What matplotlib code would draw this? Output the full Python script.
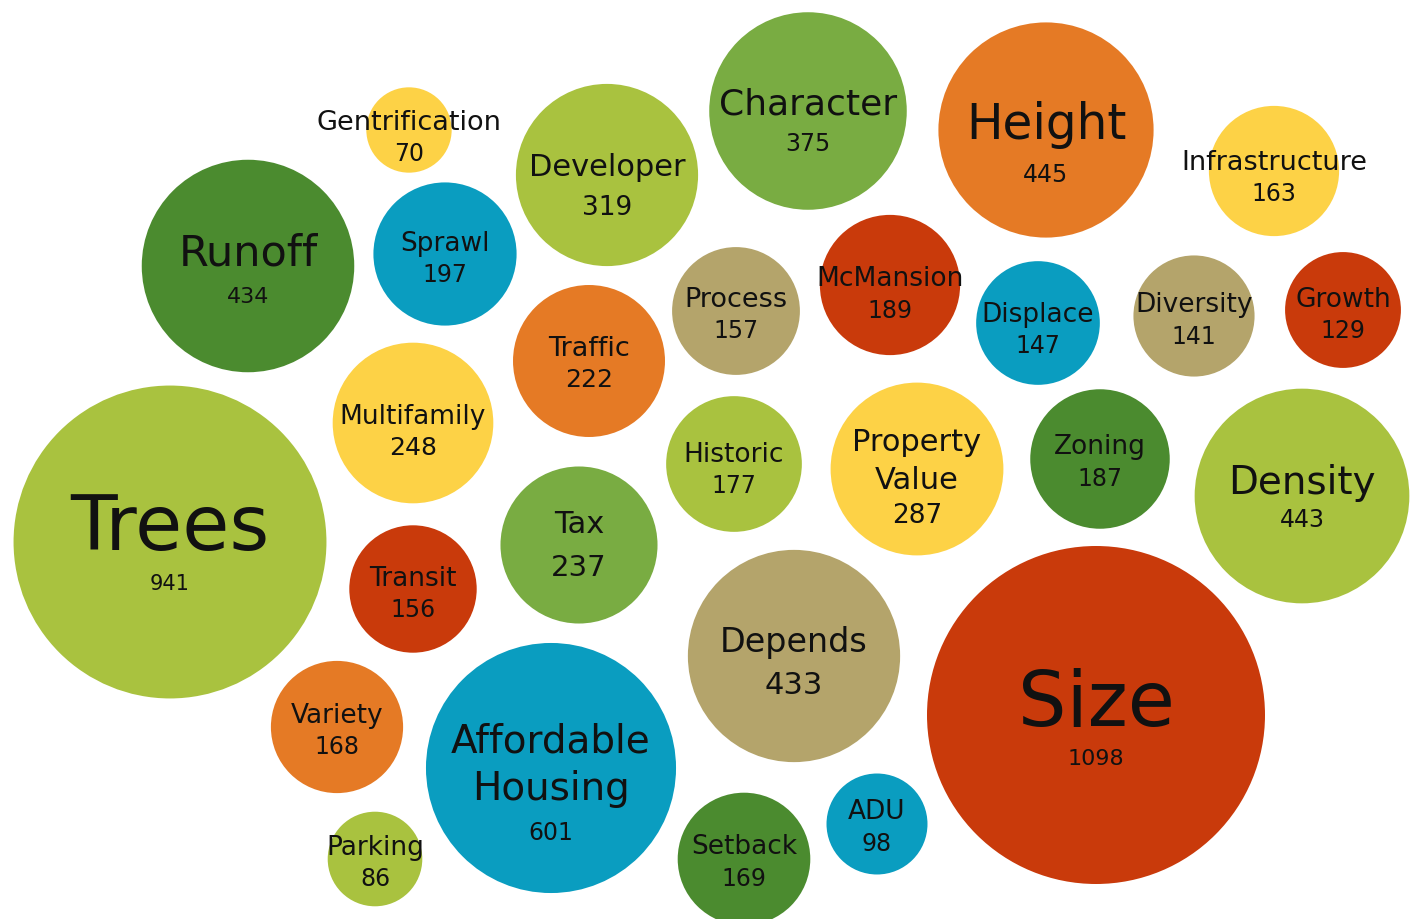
import matplotlib
matplotlib.use("Agg")
import numpy as np
import matplotlib.pyplot as plt
from matplotlib.patches import Circle

# data
topics = ["Trees", "Size", "Affordable\nHousing", "Runoff", "Height", "Density",
          "Character", "Depends", "Developer", "Property\nValue", "Multifamily",
          "Tax", "Traffic", "Sprawl", "McMansion", "Zoning", "Historic", "Setback",
          "Variety", "Infrastructure", "Process", "Transit", "Displace", "Diversity",
          "Growth", "Parking", "ADU", "Gentrification"]
counts = [941, 1098, 601, 434, 445, 443, 375, 433, 319, 287, 248, 237, 222, 197,
          189, 187, 177, 169, 168, 163, 157, 156, 147, 141, 129, 86, 98, 70]
groups = ["lime", "red", "blue", "dark", "orange", "lime", "mid", "tan", "lime",
          "yellow", "yellow", "mid", "orange", "blue", "red", "dark", "lime", "dark",
          "orange", "yellow", "tan", "red", "blue", "tan", "red", "lime", "blue",
          "yellow"]

# layout (pixel space of the picture)
cx = [170, 1096, 551, 248, 1046, 1302, 808, 794, 607, 917, 413, 579, 589, 445,
      890, 1100, 734, 744, 337, 1274, 736, 413, 1038, 1194, 1343, 375, 877, 409]
cy = [543, 716, 769, 267, 131, 497, 112, 657, 176, 470, 424, 546, 362, 255,
      286, 460, 465, 860, 728, 172, 312, 590, 324, 317, 311, 860, 825, 131]
label_fs = [55, 55, 28, 31, 35, 28, 26, 24, 22, 22, 19, 22, 19.5, 19,
            19, 19, 19, 19, 19, 19.5, 19.5, 19, 19, 19, 19, 19, 19, 19.5]
num_fs = [15, 16, 17, 16, 17, 17, 17, 22, 19, 19, 18, 21, 18, 17,
          17, 17, 17, 17, 17, 17, 17, 17, 17, 17, 17, 17, 17, 17]
label_dy = [-21, -18, -31, -17, -10, -17, -11, -17, -11, -30, -10, -24, -16, -14,
            -10, -16, -13, -16, -15, -12, -15, -14, -12, -15, -14, -15, -16, -11]
num_dy = [39, 41, 62, 28, 42, 21, 30, 26, 29, 43, 22, 19, 16, 18,
          23, 17, 19, 17, 17, 20, 17, 18, 20, 18, 18, 17, 17, 21]

palette = {
    "lime": "#a9c23f",
    "mid": "#79ac42",
    "dark": "#4b8b2f",
    "orange": "#e57a25",
    "red": "#c93a0b",
    "blue": "#0a9dc0",
    "yellow": "#fdd246",
    "tan": "#b4a46b",
}

K = 169 / np.sqrt(1098)  # radius per sqrt(count)
FONT = ["DejaVu Sans"]
CAP = 0.729 * 100 / 72  # cap height in px per point


def put(x, y_center, s, fs):
    ax.text(x, y_center + fs * CAP / 2, s, fontsize=fs, family=FONT,
            ha="center", va="baseline", color="#111111")


fig = plt.figure(figsize=(14.15, 9.2), dpi=100)
ax = fig.add_axes([0, 0, 1, 1])
ax.set_xlim(0, 1415)
ax.set_ylim(920, 0)
ax.set_aspect("equal")
ax.axis("off")

for i, name in enumerate(topics):
    r = K * np.sqrt(counts[i])
    ax.add_patch(Circle((cx[i], cy[i]), r, color=palette[groups[i]], lw=0))

for i, name in enumerate(topics):
    lines = name.split("\n")
    if len(lines) == 1:
        put(cx[i], cy[i] + label_dy[i], lines[0], label_fs[i])
    else:
        step = label_fs[i] * CAP * 1.68
        for j, ln in enumerate(lines):
            put(cx[i], cy[i] + label_dy[i] + j * step, ln, label_fs[i])
    put(cx[i], cy[i] + num_dy[i], str(counts[i]), num_fs[i])

fig.savefig("out.png", dpi=100, facecolor="white")
